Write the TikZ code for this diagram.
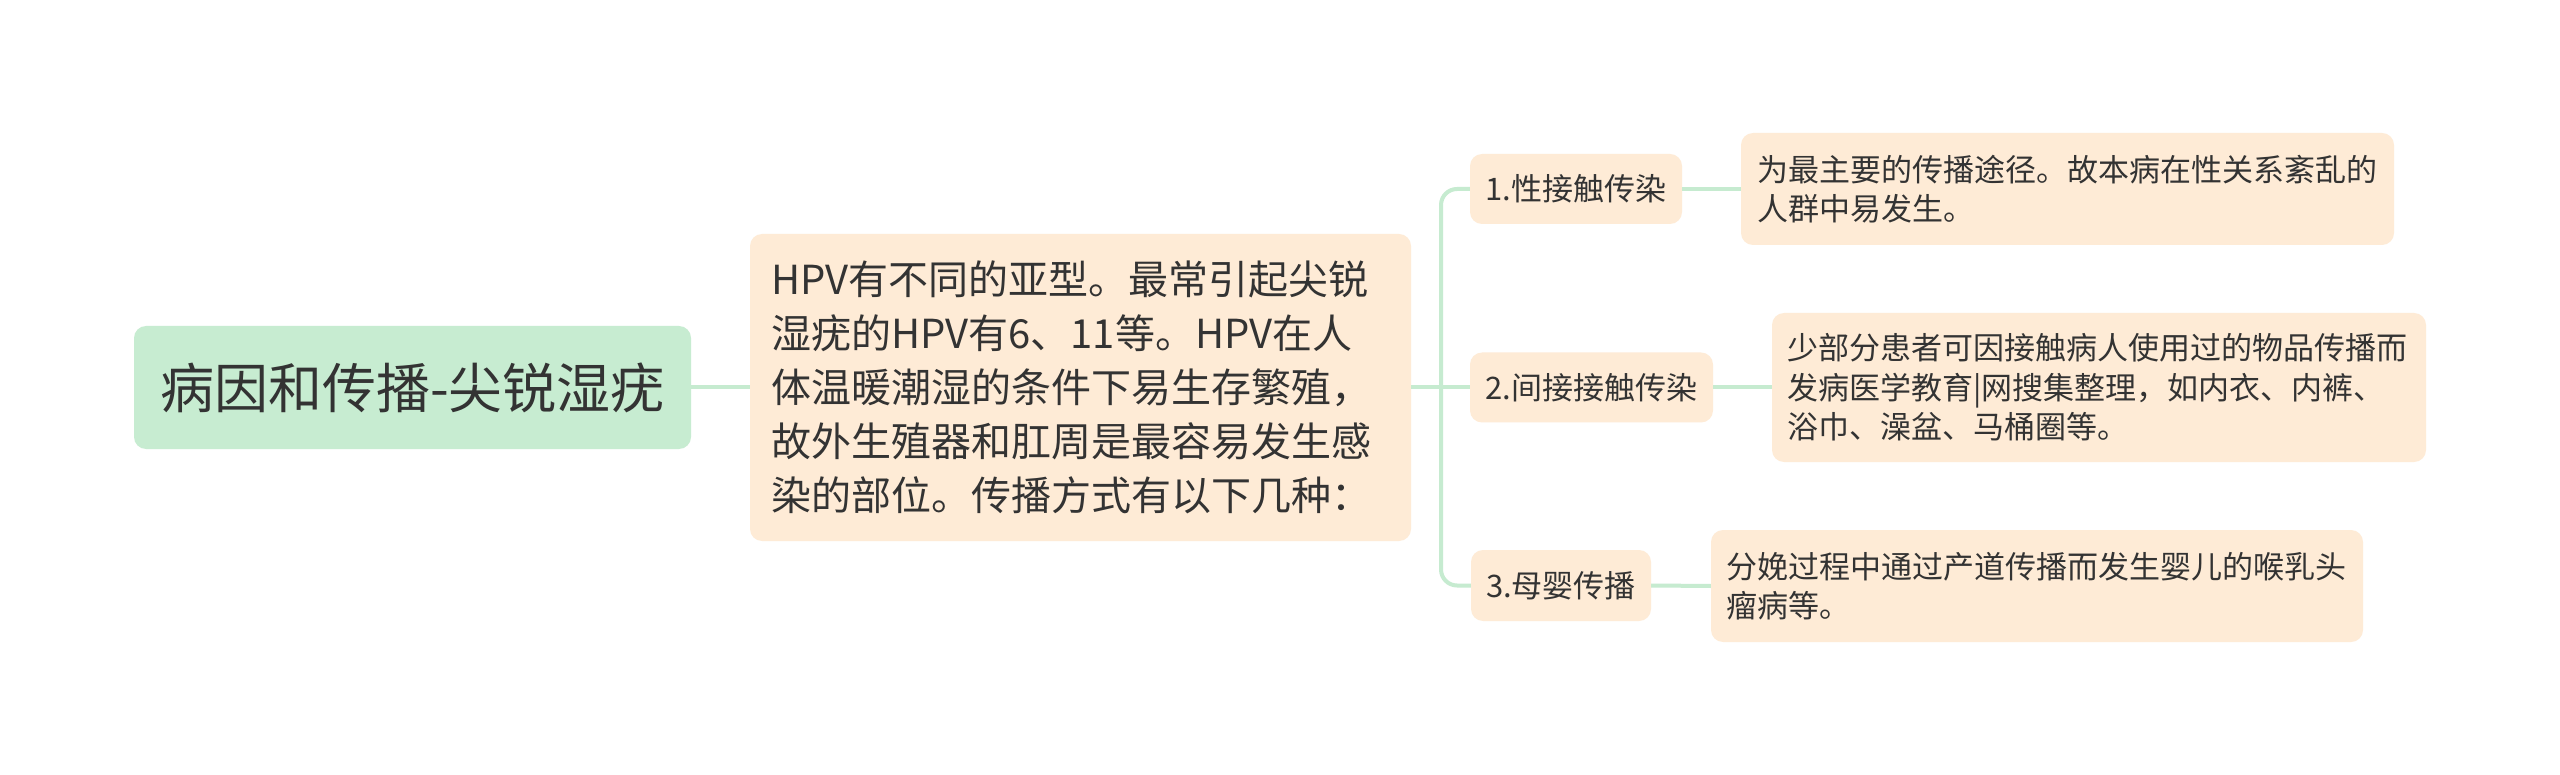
\documentclass[tikz,border=0pt]{standalone}
\usepackage{fontspec}
\setmainfont{Noto Sans CJK SC}
\usetikzlibrary{positioning}
\definecolor{lineg}{HTML}{C6EBD0}
\definecolor{rootg}{HTML}{C7ECD1}
\definecolor{beige}{HTML}{FEEBD6}
\definecolor{txt}{HTML}{333333}
\tikzset{
  rootbox/.style={fill=rootg, rounded corners=12pt, inner sep=0pt, text=txt,
    font=\fontsize{54}{60}\selectfont, align=center},
  mainbox/.style={fill=beige, rounded corners=12pt, inner xsep=21pt, inner ysep=0pt, text=txt,
    font=\fontsize{40}{54}\selectfont, align=left},
  subbox/.style={fill=beige, rounded corners=12pt, inner sep=0pt, text=txt,
    font=\fontsize{31}{40}\selectfont, align=center},
  leafbox/.style={fill=beige, rounded corners=12pt, inner xsep=16pt, inner ysep=0pt, text=txt,
    font=\fontsize{31}{39.5}\selectfont, align=left},
  conn/.style={draw=lineg, line width=4pt, rounded corners=16pt}
}
\begin{document}
\begin{tikzpicture}[x=1pt,y=-1pt]
\useasboundingbox[fill=white] (0,0) rectangle (2560,775);

\node[rootbox, minimum width=557pt, minimum height=123pt] (root) at (412.5,387.5) {病因和传播-尖锐湿疣};

\node[mainbox, minimum width=661pt, minimum height=307pt, text width=619pt] (main) at (1080.5,387.5)
  {HPV有不同的亚型。最常引起尖锐\\湿疣的HPV有6、11等。HPV在人\\体温暖潮湿的条件下易生存繁殖，\\故外生殖器和肛周是最容易发生感\\染的部位。传播方式有以下几种：};

\node[subbox, minimum width=212pt, minimum height=70pt] (n1) at (1576,189) {1.性接触传染};
\node[subbox, minimum width=243pt, minimum height=70pt] (n2) at (1591.5,387.5) {2.间接接触传染};
\node[subbox, minimum width=180pt, minimum height=71pt] (n3) at (1561,585.5) {3.母婴传播};

\node[leafbox, minimum width=653pt, minimum height=112pt, text width=621pt] (l1) at (2067.5,189)
  {为最主要的传播途径。故本病在性关系紊乱的\\人群中易发生。};
\node[leafbox, minimum width=654pt, minimum height=149pt, text width=624pt, inner xsep=15pt] (l2) at (2099,387.5)
  {少部分患者可因接触病人使用过的物品传播而\\发病医学教育|网搜集整理，如内衣、内裤、\\浴巾、澡盆、马桶圈等。};
\node[leafbox, minimum width=652pt, minimum height=112pt, text width=622pt, inner xsep=15pt] (l3) at (2037,586)
  {分娩过程中通过产道传播而发生婴儿的喉乳头\\瘤病等。};

\coordinate (j) at (1441,387.5);
\begin{scope}[on background layer/.try]
\draw[conn] (root.east) -- (main.west);
\draw[conn] (main.east) -- (n2.west);
\draw[conn] (j) |- (n1.west);
\draw[conn] (j) |- (n3.west);
\draw[conn] (n1.east) -- (l1.west);
\draw[conn] (n2.east) -- (l2.west);
\draw[conn] (n3.east) -- (l3.west);
\end{scope}
\end{tikzpicture}
\end{document}
